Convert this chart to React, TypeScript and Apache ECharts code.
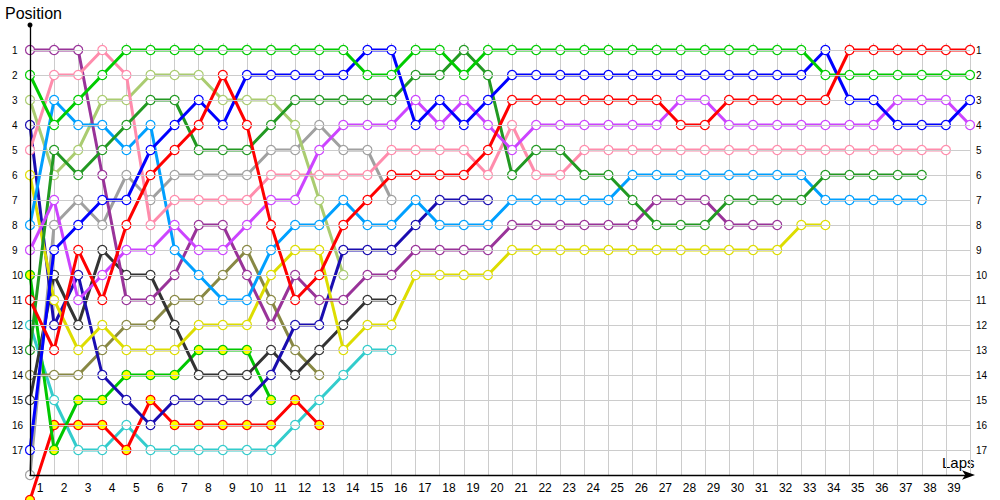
import React, { useEffect, useRef } from "react";
import * as echarts from "echarts";

// Lap tick labels (x axis) and position tick labels (y axis)
const lapTicks = ["1","2","3","4","5","6","7","8","9","10","11","12","13","14","15","16","17","18","19","20","21","22","23","24","25","26","27","28","29","30","31","32","33","34","35","36","37","38","39"];
const positionTicks = [1,2,3,4,5,6,7,8,9,10,11,12,13,14,15,16,17];

// Position of each car at lap 0 (grid), lap 1, lap 2, ...
const purpleCar = [1,1,1,6,11,11,10,8,8,10,12,10,11,11,10,10,9,9,9,9,8,8,8,8,8,8,7,7,7,8,8,8];
const greenCar = [2,4,3,2,1,1,1,1,1,1,1,1,1,1,2,2,1,1,2,1,1,1,1,1,1,1,1,1,1,1,1,1,1,2,2,2,2,2,2,2];
const lightOliveCar = [3,6,5,3,3,2,2,2,3,3,3,4,7,10];
const navyCar = [4,12,10,14,15,16,15,15,15,15,14,12,12,9,9,9,8,7,7,7];
const pinkCar = [5,2,2,1,2,8,7,7,7,7,6,6,6,6,6,5,5,5,5,6,4,6,6,5,5,5,5,5,5,5,5,5,5,5,5,5,5,5,5];
const yellowCar = [6,11,13,12,13,13,13,12,12,12,10,9,9,13,12,12,10,10,10,10,9,9,9,9,9,9,9,9,9,9,9,9,8,8];
const lightBlueCar = [8,3,4,4,5,4,9,10,11,11,9,8,8,7,8,8,7,8,8,8,7,7,7,7,7,6,6,6,6,6,6,6,6,7,7,7,7,7];
const violetCar = [9,7,11,10,9,9,8,9,9,8,7,7,5,4,4,4,3,4,3,4,5,4,4,4,4,4,4,3,3,4,4,4,4,4,4,4,3,3,3,4];
const greenYellowCar = [10,17,15,15,14,14,14,13,13,13,15];
const redCar = [11,13,9,11,8,6,5,4,2,4,8,11,10,8,7,6,6,6,6,5,3,3,3,3,3,3,3,4,4,3,3,3,3,3,1,1,1,1,1,1];
const tealCar = [12,15,17,17,16,17,17,17,17,17,17,16,15,14,13,13];
const darkGreenCar = [13,5,6,5,4,3,3,5,5,5,4,3,3,3,3,3,2,2,1,2,6,5,5,6,6,7,8,8,8,7,7,7,7,6,6,6,6,6];
const oliveCar = [14,14,14,13,12,12,11,11,10,9,11,13,14];
const darkGreyCar = [15,10,12,9,10,10,12,14,14,14,13,14,13,12,11,11];
const blueCar = [17,9,8,7,7,5,4,3,4,2,2,2,2,2,1,1,4,3,4,3,2,2,2,2,2,2,2,2,2,2,2,2,2,1,3,3,4,4,4,3];
const greyCar = [18,8,7,8,6,7,6,6,6,6,5,5,4,5,5,7];
const redYellowCar = [19,16,16,16,17,15,16,16,16,16,16,15,16];

type Car = { name: string; laps: number[]; color: string; fill: string };

const cars: Car[] = [
  { name: "teal", laps: tealCar, color: "#33cccc", fill: "#ffffff" },
  { name: "redYellow", laps: redYellowCar, color: "#ff0000", fill: "#ffff00" },
  { name: "greenYellow", laps: greenYellowCar, color: "#00c800", fill: "#ffff00" },
  { name: "olive", laps: oliveCar, color: "#888844", fill: "#ffffff" },
  { name: "darkGrey", laps: darkGreyCar, color: "#333333", fill: "#ffffff" },
  { name: "grey", laps: greyCar, color: "#a0a0a0", fill: "#ffffff" },
  { name: "lightOlive", laps: lightOliveCar, color: "#aacc70", fill: "#ffffff" },
  { name: "navy", laps: navyCar, color: "#1a0db0", fill: "#ffffff" },
  { name: "yellow", laps: yellowCar, color: "#dddd00", fill: "#ffffff" },
  { name: "purple", laps: purpleCar, color: "#993399", fill: "#ffffff" },
  { name: "lightBlue", laps: lightBlueCar, color: "#00a0ff", fill: "#ffffff" },
  { name: "pink", laps: pinkCar, color: "#ff8cac", fill: "#ffffff" },
  { name: "darkGreen", laps: darkGreenCar, color: "#229922", fill: "#ffffff" },
  { name: "violet", laps: violetCar, color: "#cc44ff", fill: "#ffffff" },
  { name: "blue", laps: blueCar, color: "#0000ff", fill: "#ffffff" },
  { name: "green", laps: greenCar, color: "#00cc00", fill: "#ffffff" },
  { name: "red", laps: redCar, color: "#ff0000", fill: "#ffffff" },
];

const FONT = "Liberation Sans";

export default function App() {
  const ref = useRef<HTMLDivElement>(null);

  useEffect(() => {
    if (!ref.current) return;
    const chart = echarts.init(ref.current, undefined, { renderer: "svg" });

    const posLabel = (v: number) => (positionTicks.indexOf(v) >= 0 ? String(v) : "");
    const splitColors = ["rgba(0,0,0,0)"].concat(positionTicks.map(() => "#cccccc")).concat(["rgba(0,0,0,0)"]);

    const option: any = {
      animation: false,
      backgroundColor: "#ffffff",
      grid: [
        { left: 30, right: 30, top: 25, bottom: 25, containLabel: false },
        { left: 30, right: 30, top: 43, bottom: 25, containLabel: false },
        { left: 28, right: 34, top: 43, bottom: 25, containLabel: false },
      ],
      xAxis: [
        {
          gridIndex: 0,
          type: "value",
          position: "bottom",
          min: 0,
          max: 39,
          interval: 1,
          axisLine: {
            show: true,
            onZero: false,
            lineStyle: { color: "#000000", width: 1.3 },
            symbol: ["none", "arrow"],
            symbolSize: [7, 13],
            symbolOffset: [0, 5],
          },
          axisTick: { show: false },
          axisLabel: { show: false },
          splitLine: { show: false },
          z: 5,
        },
        {
          gridIndex: 1,
          type: "value",
          min: 0,
          max: 39,
          interval: 1,
          axisLine: { show: false },
          axisTick: { show: false },
          axisLabel: { show: false },
          splitLine: { show: true, lineStyle: { color: "#cccccc", width: 1 } },
        },
        {
          gridIndex: 2,
          type: "category",
          data: lapTicks,
          boundaryGap: true,
          axisLine: { show: false },
          axisTick: { show: false },
          splitLine: { show: false },
          axisLabel: {
            show: true,
            interval: 0,
            margin: 7,
            color: "#000000",
            fontFamily: FONT,
            fontSize: 12,
          },
        },
      ],
      yAxis: [
        {
          gridIndex: 0,
          type: "value",
          inverse: true,
          min: 0,
          max: 18,
          interval: 1,
          axisLine: {
            show: true,
            onZero: false,
            lineStyle: { color: "#000000", width: 1.3 },
            symbol: ["none", "circle"],
            symbolSize: [5, 5],
          },
          axisTick: { show: false },
          axisLabel: {
            show: true,
            formatter: posLabel,
            align: "left",
            margin: 18,
            color: "#000000",
            fontFamily: FONT,
            fontSize: 10,
          },
          splitLine: { show: true, lineStyle: { color: splitColors, width: 1 } },
          z: 5,
        },
        {
          gridIndex: 0,
          type: "value",
          position: "right",
          inverse: true,
          min: 0,
          max: 18,
          interval: 1,
          axisLine: { show: false },
          axisTick: { show: false },
          splitLine: { show: false },
          axisLabel: {
            show: true,
            formatter: posLabel,
            align: "left",
            margin: 6,
            color: "#000000",
            fontFamily: FONT,
            fontSize: 10,
          },
        },
        { gridIndex: 1, type: "value", show: false, min: 0, max: 1 },
        { gridIndex: 2, type: "value", show: false, min: 0, max: 1 },
      ],
      graphic: [
        {
          type: "text",
          left: 5,
          top: 5,
          style: { text: "Position", fill: "#000000", font: `16px "${FONT}"` },
        },
        {
          type: "text",
          left: 942,
          top: 455,
          style: { text: "Laps", fill: "#000000", font: `15px "${FONT}"` },
        },
      ],
      series: cars.map((car, idx) => ({
        name: car.name,
        type: "line",
        xAxisIndex: 0,
        yAxisIndex: 0,
        data: car.laps.map((p, lap) => [lap, p]),
        symbol: "circle",
        symbolSize: 9,
        showSymbol: true,
        clip: false,
        z: 3 + idx * 0.01,
        lineStyle: { color: car.color, width: 3 },
        itemStyle: { color: car.fill, borderColor: car.color, borderWidth: 1.2 },
        emphasis: { disabled: true },
        silent: true,
      })),
    };

    chart.setOption(option);
    return () => chart.dispose();
  }, []);

  return <div ref={ref} style={{ width: 1000, height: 500, position: "absolute", left: 0, top: 0 }} />;
}
